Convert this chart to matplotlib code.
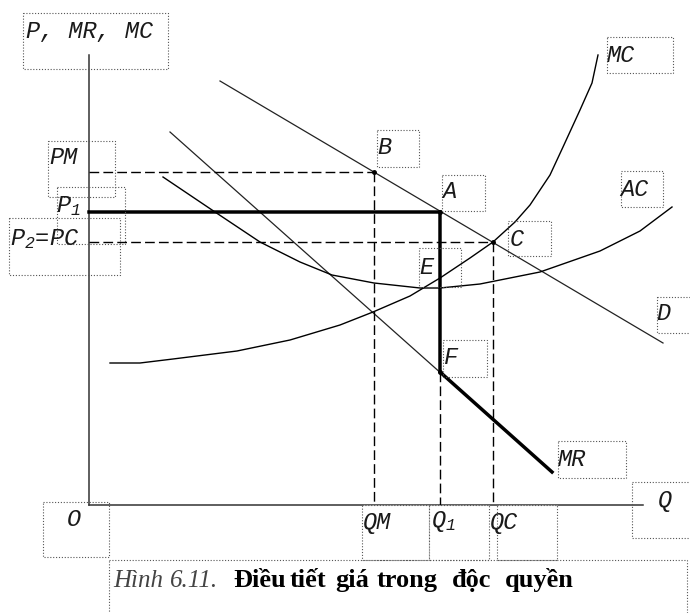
import numpy as np
import matplotlib
matplotlib.use("Agg")
import matplotlib.pyplot as plt
from matplotlib.patches import Rectangle

plt.rcParams['mathtext.fontset'] = 'custom'
plt.rcParams['mathtext.rm'] = 'Liberation Mono:italic'
plt.rcParams['mathtext.it'] = 'Liberation Mono:italic'

# quantities and prices (origin at O)
QM, Q1, QC = 285, 351, 404
PM, P1, PC = 333, 293, 263
MR_F = 133

# demand and marginal revenue (end points)
d_q = [131, 574]
d_p = [424, 162]
mr_q = [81, 463]
mr_p = [373, 33]

# average cost (U shape)
ac_q = [74, 126, 171, 211, 243, 285, 331, 351, 391, 451, 511, 551, 583]
ac_p = [328, 293, 263, 243, 230, 222, 217, 217, 221, 233, 254, 274, 298]

# marginal cost
mc_q = [21, 51, 84, 148, 201, 251, 284, 321, 351, 381, 404, 426, 441, 461, 474, 491, 503, 509]
mc_p = [142, 142, 146, 154, 165, 180, 193, 209, 227, 247, 263, 283, 300, 330, 358, 395, 422, 450]

# label boxes in pixels: text, x0, y0, x1, y1, text x, text y, white fill
labels = [
    ("P, MR, MC", 23, 13, 168, 69, 26, 32, False),
    ("PM", 48, 141, 115, 197, 49, 157, False),
    ("P$_1$", 57, 187, 125, 244, 56, 206, False),
    ("P$_2$=PC", 9, 218, 120, 275, 10, 239, False),
    ("B", 377, 130, 419, 167, 377, 147, False),
    ("A", 442, 175, 485, 211, 442, 192, False),
    ("C", 508, 221, 551, 256, 510, 240, False),
    ("E", 419, 248, 461, 287, 419, 267, False),
    ("F", 443, 340, 487, 377, 444, 358, False),
    ("MC", 607, 37, 673, 73, 607, 55, False),
    ("AC", 621, 171, 663, 207, 620, 189, False),
    ("D", 657, 297, 692, 333, 656, 314, False),
    ("MR", 558, 441, 626, 478, 558, 459, False),
    ("Q", 632, 482, 692, 538, 658, 501, False),
    ("O", 43, 502, 109, 557, 67, 520, False),
    ("QM", 362, 505, 429, 560, 363, 522, True),
    ("Q$_1$", 429, 505, 489, 560, 431, 522, True),
    ("QC", 497, 505, 557, 560, 490, 522, True),
]

# caption pieces: text, x, italic
caption = [
    ("Hình", 113, True),
    ("6.11.", 170, True),
    ("Điều", 233, False),
    ("tiết", 290, False),
    ("giá", 335, False),
    ("trong", 377, False),
    ("độc", 452, False),
    ("quyền", 505, False),
]

fig = plt.figure(figsize=(6.9, 6.13), dpi=100)
ax = fig.add_axes([0, 0, 1, 1])
ax.set_xlim(-89, 601)
ax.set_ylim(-108, 505)
ax.axis('off')

# axes
ax.plot([0, 0], [0, 450], color='#333333', lw=1.1)
ax.plot([0, 554], [0, 0], color='#333333', lw=1.1)

# curves
ax.plot(d_q, d_p, color='#222222', lw=0.9)
ax.plot(mr_q, mr_p, color='#222222', lw=0.9)
ax.plot(ac_q, ac_p, color='black', lw=1.0)
ax.plot(mc_q, mc_p, color='black', lw=1.0)

# dashed guides
dash = dict(color='black', lw=1.0, linestyle=(0, (7, 3)))
ax.plot([0, QM], [PM, PM], **dash)
ax.plot([QM, QM], [PM, 0], **dash)
ax.plot([0, QC], [PC, PC], **dash)
ax.plot([QC, QC], [PC, 0], **dash)
ax.plot([Q1, Q1], [MR_F, 0], **dash)

# regulated path
mr_end_p = np.interp(mr_q[1], mr_q, mr_p)
ax.plot([0, Q1, Q1, mr_q[1]], [P1, P1, MR_F, mr_end_p], color='black', lw=2.5,
        solid_joinstyle='miter')

ax.plot([QM, Q1, QC, Q1], [PM, P1, PC, MR_F], 'o', color='black', ms=2.5)

# annotation layer in pixel units
ann = fig.add_axes([0, 0, 1, 1], zorder=2)
ann.set_xlim(0, 690)
ann.set_ylim(613, 0)
ann.axis('off')
ann.patch.set_alpha(0)

for txt, x0, y0, x1, y1, tx, ty, fill in labels:
    ann.add_patch(Rectangle((x0, y0), x1 - x0, y1 - y0,
                            facecolor='white' if fill else 'none',
                            edgecolor='#555555', lw=0.8, linestyle=(0, (1, 1.6))))
    ann.text(tx, ty, txt, family='Liberation Mono', style='italic',
             fontsize=17, va='center', ha='left', color='#1a1a1a')

# caption
ann.add_patch(Rectangle((109, 560), 578, 60, facecolor='none',
                        edgecolor='#555555', lw=0.8, linestyle=(0, (1, 1.6))))
for word, x, ital in caption:
    if ital:
        ann.text(x, 587, word, family='Liberation Serif', style='italic',
                 fontsize=18, va='baseline', ha='left', color='#444444')
    else:
        ann.text(x, 587, word, family='Liberation Serif', weight='bold',
                 fontsize=19, va='baseline', ha='left', color='black')

fig.savefig("out.png", dpi=100)
